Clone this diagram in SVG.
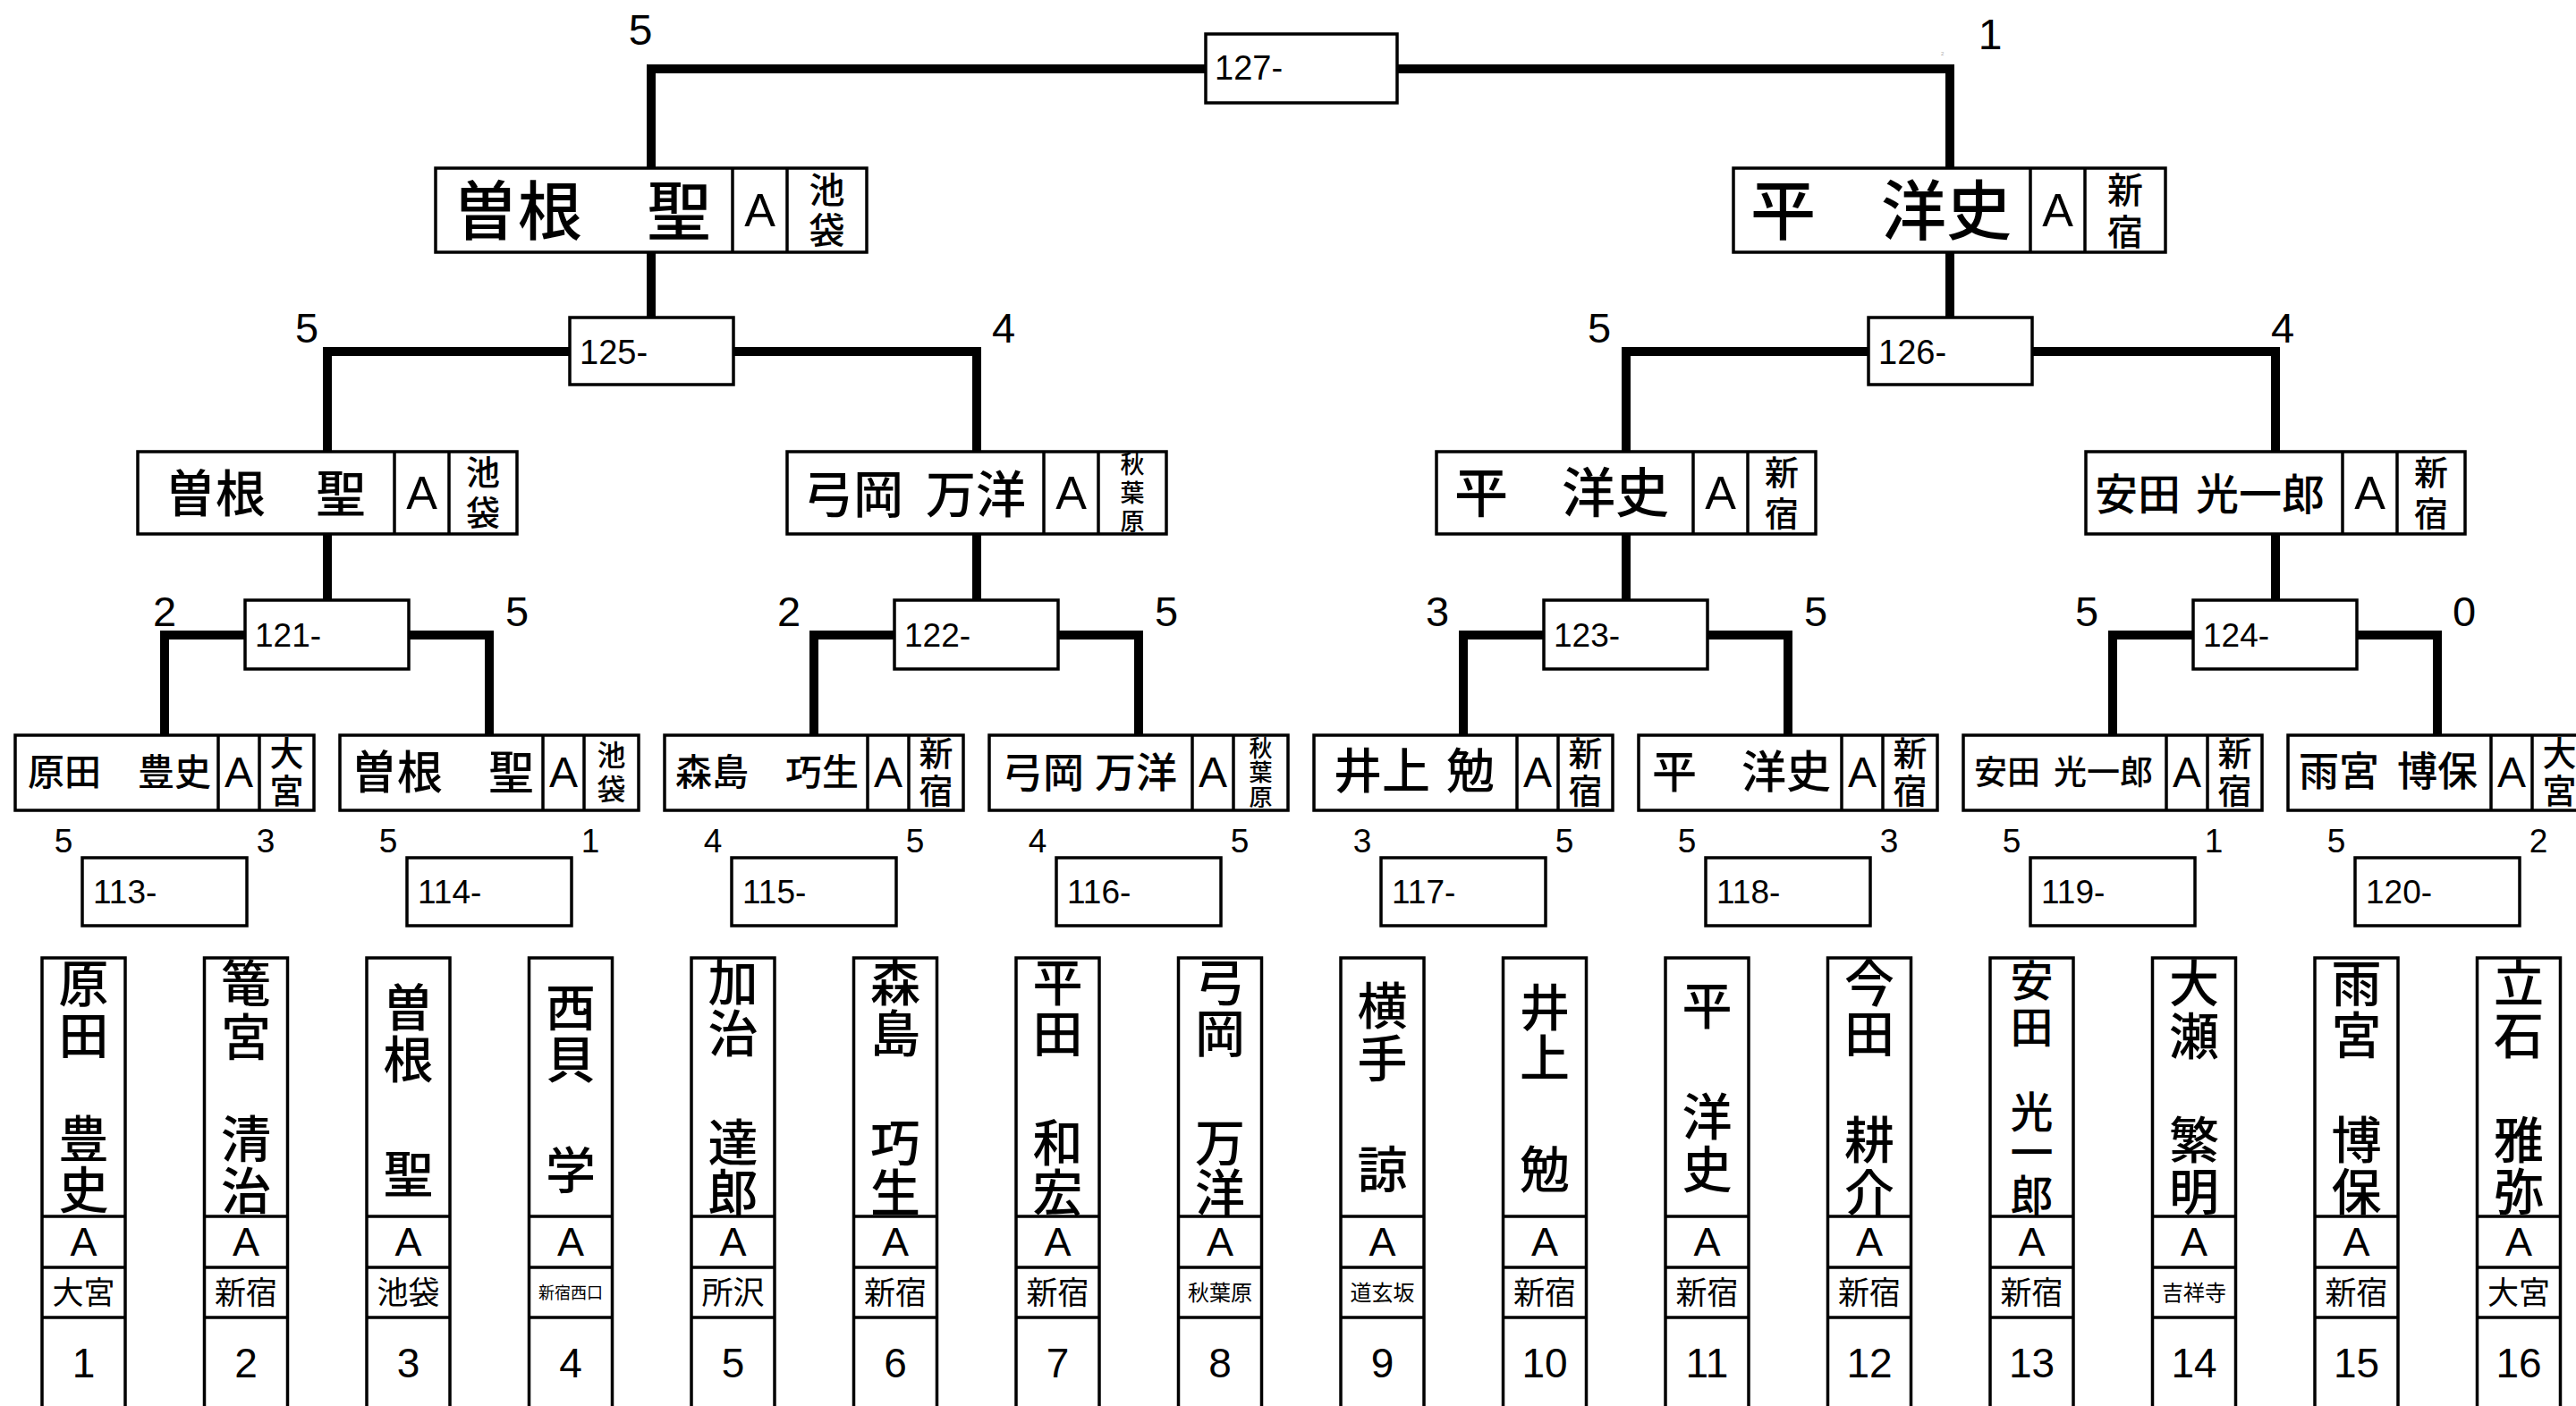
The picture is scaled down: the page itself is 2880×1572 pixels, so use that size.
<svg xmlns="http://www.w3.org/2000/svg" width="2880" height="1572" viewBox="0 0 2880 1572">
<style>
.ln{fill:none;stroke:#000;stroke-width:10;stroke-linejoin:miter;stroke-linecap:square}
.bx{fill:#fff;stroke:#000;stroke-width:3.5}
.dv{stroke:#000;stroke-width:3.5}
.jp{font-family:"Noto Sans CJK JP","Noto Sans CJK SC",sans-serif;font-weight:500;fill:#000}
.nm{font-family:"Liberation Sans",Arial,sans-serif;fill:#000}
.c{text-anchor:middle}
.sc{font-family:"Liberation Sans",Arial,sans-serif;font-size:47px;text-anchor:middle}
.sb{font-family:"Liberation Sans",Arial,sans-serif;font-size:37px;text-anchor:middle}
.mt{font-family:"Liberation Sans",Arial,sans-serif;font-size:37px}
.pa{font-family:"Liberation Sans",Arial,sans-serif;font-size:45px;text-anchor:middle}
.pn{font-family:"Liberation Sans",Arial,sans-serif;font-size:46px;text-anchor:middle}
.vn{font-family:"Noto Sans CJK JP","Noto Sans CJK SC",sans-serif;font-weight:500;font-size:56px;text-anchor:middle}
.pl{font-family:"Noto Sans CJK JP","Noto Sans CJK SC",sans-serif;font-size:35px;text-anchor:middle}
</style>
<rect width="2880" height="1572" fill="#fff"/>

<g id="connectors">
<path class="ln" d="M728 188 V77 H2180 V188"/>
<path class="ln" d="M728 282 V355"/>
<path class="ln" d="M2180 282 V355"/>
<path class="ln" d="M366 505 V393 H1092 V505"/>
<path class="ln" d="M1818 505 V393 H2544 V505"/>
<path class="ln" d="M366 597 V671"/>
<path class="ln" d="M1092 597 V671"/>
<path class="ln" d="M1818 597 V671"/>
<path class="ln" d="M2544 597 V671"/>
<path class="ln" d="M184 822 V710 H547 V822"/>
<path class="ln" d="M910 822 V710 H1273 V822"/>
<path class="ln" d="M1636 822 V710 H1999 V822"/>
<path class="ln" d="M2362 822 V710 H2725 V822"/>
</g>

<g id="scores">
<text class="sc" x="716" y="50" style="font-size:48px">5</text>
<text class="sc" x="2225" y="55" style="font-size:48px">1</text>
<text x="2170" y="62" style="font-family:'Liberation Sans',sans-serif;font-size:6px;fill:#aaa">2</text>
<text class="sc" x="343" y="383">5</text>
<text class="sc" x="1122" y="383">4</text>
<text class="sc" x="1788" y="383">5</text>
<text class="sc" x="2552" y="383">4</text>
<text class="sc" x="184" y="700">2</text>
<text class="sc" x="578" y="700">5</text>
<text class="sc" x="882" y="700">2</text>
<text class="sc" x="1304" y="700">5</text>
<text class="sc" x="1607" y="700">3</text>
<text class="sc" x="2030" y="700">5</text>
<text class="sc" x="2333" y="700">5</text>
<text class="sc" x="2755" y="700">0</text>
<text class="sb" x="71" y="953">5</text><text class="sb" x="297" y="953">3</text>
<text class="sb" x="434" y="953">5</text><text class="sb" x="660" y="953">1</text>
<text class="sb" x="797" y="953">4</text><text class="sb" x="1023" y="953">5</text>
<text class="sb" x="1160" y="953">4</text><text class="sb" x="1386" y="953">5</text>
<text class="sb" x="1523" y="953">3</text><text class="sb" x="1749" y="953">5</text>
<text class="sb" x="1886" y="953">5</text><text class="sb" x="2112" y="953">3</text>
<text class="sb" x="2249" y="953">5</text><text class="sb" x="2475" y="953">1</text>
<text class="sb" x="2612" y="953">5</text><text class="sb" x="2838" y="953">2</text>
</g>

<g id="m127"><rect class="bx" x="1348" y="38" width="214" height="77"/><text class="mt" x="1358" y="89" style="font-size:38px">127-</text></g>
<g id="m125"><rect class="bx" x="637" y="355" width="183" height="75"/><text class="mt" x="648" y="407" style="font-size:38px">125-</text></g>
<g id="m126"><rect class="bx" x="2089" y="355" width="183" height="75"/><text class="mt" x="2100" y="407" style="font-size:38px">126-</text></g>
<g id="m121"><rect class="bx" x="274" y="671" width="183" height="77"/><text class="mt" x="285" y="723">121-</text></g>
<g id="m122"><rect class="bx" x="1000" y="671" width="183" height="77"/><text class="mt" x="1011" y="723">122-</text></g>
<g id="m123"><rect class="bx" x="1726" y="671" width="183" height="77"/><text class="mt" x="1737" y="723">123-</text></g>
<g id="m124"><rect class="bx" x="2452" y="671" width="183" height="77"/><text class="mt" x="2463" y="723">124-</text></g>
<g id="m113"><rect class="bx" x="92" y="959" width="184" height="76"/><text class="mt" x="104" y="1010">113-</text></g>
<g id="m114"><rect class="bx" x="455" y="959" width="184" height="76"/><text class="mt" x="467" y="1010">114-</text></g>
<g id="m115"><rect class="bx" x="818" y="959" width="184" height="76"/><text class="mt" x="830" y="1010">115-</text></g>
<g id="m116"><rect class="bx" x="1181" y="959" width="184" height="76"/><text class="mt" x="1193" y="1010">116-</text></g>
<g id="m117"><rect class="bx" x="1544" y="959" width="184" height="76"/><text class="mt" x="1556" y="1010">117-</text></g>
<g id="m118"><rect class="bx" x="1907" y="959" width="184" height="76"/><text class="mt" x="1919" y="1010">118-</text></g>
<g id="m119"><rect class="bx" x="2270" y="959" width="184" height="76"/><text class="mt" x="2282" y="1010">119-</text></g>
<g id="m120"><rect class="bx" x="2633" y="959" width="184" height="76"/><text class="mt" x="2645" y="1010">120-</text></g>

<!-- semifinal winners -->
<g id="s1">
<rect class="bx" x="487" y="188" width="482" height="94"/>
<line class="dv" x1="819" y1="188" x2="819" y2="282"/><line class="dv" x1="880" y1="188" x2="880" y2="282"/>
<text class="jp" x="507" y="262" style="font-size:72px">曽根　聖</text>
<text class="nm c" x="849.5" y="253" style="font-size:52px">A</text>
<text class="jp c" style="font-size:40px"><tspan x="924.5" y="227">池</tspan><tspan x="924.5" y="272">袋</tspan></text>
</g>
<g id="s2">
<rect class="bx" x="1938" y="188" width="483" height="94"/>
<line class="dv" x1="2270" y1="188" x2="2270" y2="282"/><line class="dv" x1="2331" y1="188" x2="2331" y2="282"/>
<text class="jp" x="1957" y="262" style="font-size:73px">平　洋史</text>
<text class="nm c" x="2300.5" y="253" style="font-size:52px">A</text>
<text class="jp c" style="font-size:40px"><tspan x="2376" y="227">新</tspan><tspan x="2376" y="274">宿</tspan></text>
</g>

<!-- quarterfinal winners -->
<g id="q1">
<rect class="bx" x="154" y="505" width="424" height="92"/>
<line class="dv" x1="441" y1="505" x2="441" y2="597"/><line class="dv" x1="502" y1="505" x2="502" y2="597"/>
<text class="jp" x="185" y="572" style="font-size:56px">曽根　聖</text>
<text class="nm c" x="471.5" y="569" style="font-size:52px">A</text>
<text class="jp c" style="font-size:38px"><tspan x="540" y="542">池</tspan><tspan x="540" y="587">袋</tspan></text>
</g>
<g id="q2">
<rect class="bx" x="880" y="505" width="424" height="92"/>
<line class="dv" x1="1167" y1="505" x2="1167" y2="597"/><line class="dv" x1="1228" y1="505" x2="1228" y2="597"/>
<text class="jp" x="898" y="573" style="font-size:56px">弓岡 <tspan x="1035">万洋</tspan></text>
<text class="nm c" x="1197.5" y="569" style="font-size:52px">A</text>
<text class="jp c" style="font-size:27px"><tspan x="1266" y="529">秋</tspan><tspan x="1266" y="561">葉</tspan><tspan x="1266" y="593">原</tspan></text>
</g>
<g id="q3">
<rect class="bx" x="1606" y="505" width="424" height="92"/>
<line class="dv" x1="1893" y1="505" x2="1893" y2="597"/><line class="dv" x1="1954" y1="505" x2="1954" y2="597"/>
<text class="jp" x="1626" y="573" style="font-size:60px">平　洋史</text>
<text class="nm c" x="1923.5" y="569" style="font-size:52px">A</text>
<text class="jp c" style="font-size:38px"><tspan x="1992" y="542">新</tspan><tspan x="1992" y="588">宿</tspan></text>
</g>
<g id="q4">
<rect class="bx" x="2332" y="505" width="424" height="92"/>
<line class="dv" x1="2619" y1="505" x2="2619" y2="597"/><line class="dv" x1="2680" y1="505" x2="2680" y2="597"/>
<text class="jp" x="2342" y="570" style="font-size:48px">安田 <tspan x="2455">光一郎</tspan></text>
<text class="nm c" x="2649.5" y="569" style="font-size:52px">A</text>
<text class="jp c" style="font-size:38px"><tspan x="2718" y="542">新</tspan><tspan x="2718" y="588">宿</tspan></text>
</g>

<!-- round 2 winners -->
<g id="r1">
<rect class="bx" x="17" y="822" width="334" height="84"/>
<line class="dv" x1="244" y1="822" x2="244" y2="906"/><line class="dv" x1="290" y1="822" x2="290" y2="906"/>
<text class="jp" x="31" y="878" style="font-size:41px">原田　豊史</text>
<text class="nm c" x="267" y="880" style="font-size:48px">A</text>
<text class="jp c" style="font-size:38px"><tspan x="320.5" y="856">大</tspan><tspan x="320.5" y="898">宮</tspan></text>
</g>
<g id="r2">
<rect class="bx" x="380" y="822" width="334" height="84"/>
<line class="dv" x1="607" y1="822" x2="607" y2="906"/><line class="dv" x1="653" y1="822" x2="653" y2="906"/>
<text class="jp" x="393" y="882" style="font-size:51px">曽根　聖</text>
<text class="nm c" x="630" y="880" style="font-size:48px">A</text>
<text class="jp c" style="font-size:32px"><tspan x="683.5" y="856">池</tspan><tspan x="683.5" y="894">袋</tspan></text>
</g>
<g id="r3">
<rect class="bx" x="743" y="822" width="334" height="84"/>
<line class="dv" x1="970" y1="822" x2="970" y2="906"/><line class="dv" x1="1016" y1="822" x2="1016" y2="906"/>
<text class="jp" x="755" y="878" style="font-size:41px">森島　巧生</text>
<text class="nm c" x="993" y="880" style="font-size:48px">A</text>
<text class="jp c" style="font-size:38px"><tspan x="1046.5" y="856">新</tspan><tspan x="1046.5" y="898">宿</tspan></text>
</g>
<g id="r4">
<rect class="bx" x="1106" y="822" width="334" height="84"/>
<line class="dv" x1="1333" y1="822" x2="1333" y2="906"/><line class="dv" x1="1379" y1="822" x2="1379" y2="906"/>
<text class="jp" x="1120" y="880" style="font-size:46px">弓岡 <tspan x="1224">万洋</tspan></text>
<text class="nm c" x="1356" y="880" style="font-size:48px">A</text>
<text class="jp c" style="font-size:26px"><tspan x="1409.5" y="846">秋</tspan><tspan x="1409.5" y="873">葉</tspan><tspan x="1409.5" y="901">原</tspan></text>
</g>
<g id="r5">
<rect class="bx" x="1469" y="822" width="334" height="84"/>
<line class="dv" x1="1696" y1="822" x2="1696" y2="906"/><line class="dv" x1="1742" y1="822" x2="1742" y2="906"/>
<text class="jp" x="1491" y="882" style="font-size:54px">井上 <tspan x="1617">勉</tspan></text>
<text class="nm c" x="1719" y="880" style="font-size:48px">A</text>
<text class="jp c" style="font-size:38px"><tspan x="1772.5" y="856">新</tspan><tspan x="1772.5" y="898">宿</tspan></text>
</g>
<g id="r6">
<rect class="bx" x="1832" y="822" width="334" height="84"/>
<line class="dv" x1="2059" y1="822" x2="2059" y2="906"/><line class="dv" x1="2105" y1="822" x2="2105" y2="906"/>
<text class="jp" x="1847" y="881" style="font-size:50px">平　洋史</text>
<text class="nm c" x="2082" y="880" style="font-size:48px">A</text>
<text class="jp c" style="font-size:38px"><tspan x="2135.5" y="856">新</tspan><tspan x="2135.5" y="898">宿</tspan></text>
</g>
<g id="r7">
<rect class="bx" x="2195" y="822" width="334" height="84"/>
<line class="dv" x1="2422" y1="822" x2="2422" y2="906"/><line class="dv" x1="2468" y1="822" x2="2468" y2="906"/>
<text class="jp" x="2207" y="877" style="font-size:37px">安田 <tspan x="2296">光一郎</tspan></text>
<text class="nm c" x="2445" y="880" style="font-size:48px">A</text>
<text class="jp c" style="font-size:38px"><tspan x="2498.5" y="856">新</tspan><tspan x="2498.5" y="898">宿</tspan></text>
</g>
<g id="r8">
<rect class="bx" x="2558" y="822" width="334" height="84"/>
<line class="dv" x1="2785" y1="822" x2="2785" y2="906"/><line class="dv" x1="2831" y1="822" x2="2831" y2="906"/>
<text class="jp" x="2570" y="879" style="font-size:45px">雨宮 <tspan x="2680">博保</tspan></text>
<text class="nm c" x="2808" y="880" style="font-size:48px">A</text>
<text class="jp c" style="font-size:38px"><tspan x="2861.5" y="856">大</tspan><tspan x="2861.5" y="898">宮</tspan></text>
</g>

<!-- players -->
<g id="p1"><rect class="bx" x="47" y="1071" width="93" height="540"/><line class="dv" x1="47" y1="1360" x2="140" y2="1360"/><line class="dv" x1="47" y1="1417" x2="140" y2="1417"/><line class="dv" x1="47" y1="1473" x2="140" y2="1473"/>
<text class="vn"><tspan x="93.5" y="1120">原</tspan><tspan x="93.5" y="1178">田</tspan><tspan x="93.5" y="1294">豊</tspan><tspan x="93.5" y="1351">史</tspan></text>
<text class="pa" x="93.5" y="1404">A</text><text class="pl" x="93.5" y="1458">大宮</text><text class="pn" x="93.5" y="1540">1</text></g>

<g id="p2"><rect class="bx" x="228.5" y="1071" width="93" height="540"/><line class="dv" x1="228.5" y1="1360" x2="321.5" y2="1360"/><line class="dv" x1="228.5" y1="1417" x2="321.5" y2="1417"/><line class="dv" x1="228.5" y1="1473" x2="321.5" y2="1473"/>
<text class="vn"><tspan x="275" y="1120">篭</tspan><tspan x="275" y="1180">宮</tspan><tspan x="275" y="1294">清</tspan><tspan x="275" y="1352">治</tspan></text>
<text class="pa" x="275" y="1404">A</text><text class="pl" x="275" y="1458">新宿</text><text class="pn" x="275" y="1540">2</text></g>

<g id="p3"><rect class="bx" x="410" y="1071" width="93" height="540"/><line class="dv" x1="410" y1="1360" x2="503" y2="1360"/><line class="dv" x1="410" y1="1417" x2="503" y2="1417"/><line class="dv" x1="410" y1="1473" x2="503" y2="1473"/>
<text class="vn"><tspan x="456.5" y="1147">曽</tspan><tspan x="456.5" y="1205">根</tspan><tspan x="456.5" y="1333">聖</tspan></text>
<text class="pa" x="456.5" y="1404">A</text><text class="pl" x="456.5" y="1458">池袋</text><text class="pn" x="456.5" y="1540">3</text></g>

<g id="p4"><rect class="bx" x="591.5" y="1071" width="93" height="540"/><line class="dv" x1="591.5" y1="1360" x2="684.5" y2="1360"/><line class="dv" x1="591.5" y1="1417" x2="684.5" y2="1417"/><line class="dv" x1="591.5" y1="1473" x2="684.5" y2="1473"/>
<text class="vn"><tspan x="638" y="1147">西</tspan><tspan x="638" y="1205">貝</tspan><tspan x="638" y="1329">学</tspan></text>
<text class="pa" x="638" y="1404">A</text><text class="pl" x="638" y="1452" style="font-size:18px">新宿西口</text><text class="pn" x="638" y="1540">4</text></g>

<g id="p5"><rect class="bx" x="773" y="1071" width="93" height="540"/><line class="dv" x1="773" y1="1360" x2="866" y2="1360"/><line class="dv" x1="773" y1="1417" x2="866" y2="1417"/><line class="dv" x1="773" y1="1473" x2="866" y2="1473"/>
<text class="vn"><tspan x="819.5" y="1119">加</tspan><tspan x="819.5" y="1176">治</tspan><tspan x="819.5" y="1298">達</tspan><tspan x="819.5" y="1354">郎</tspan></text>
<text class="pa" x="819.5" y="1404">A</text><text class="pl" x="819.5" y="1458">所沢</text><text class="pn" x="819.5" y="1540">5</text></g>

<g id="p6"><rect class="bx" x="954.5" y="1071" width="93" height="540"/><line class="dv" x1="954.5" y1="1360" x2="1047.5" y2="1360"/><line class="dv" x1="954.5" y1="1417" x2="1047.5" y2="1417"/><line class="dv" x1="954.5" y1="1473" x2="1047.5" y2="1473"/>
<text class="vn"><tspan x="1001" y="1119">森</tspan><tspan x="1001" y="1176">島</tspan><tspan x="1001" y="1298">巧</tspan><tspan x="1001" y="1354">生</tspan></text>
<text class="pa" x="1001" y="1404">A</text><text class="pl" x="1001" y="1458">新宿</text><text class="pn" x="1001" y="1540">6</text></g>

<g id="p7"><rect class="bx" x="1136" y="1071" width="93" height="540"/><line class="dv" x1="1136" y1="1360" x2="1229" y2="1360"/><line class="dv" x1="1136" y1="1417" x2="1229" y2="1417"/><line class="dv" x1="1136" y1="1473" x2="1229" y2="1473"/>
<text class="vn"><tspan x="1182.5" y="1119">平</tspan><tspan x="1182.5" y="1176">田</tspan><tspan x="1182.5" y="1298">和</tspan><tspan x="1182.5" y="1354">宏</tspan></text>
<text class="pa" x="1182.5" y="1404">A</text><text class="pl" x="1182.5" y="1458">新宿</text><text class="pn" x="1182.5" y="1540">7</text></g>

<g id="p8"><rect class="bx" x="1317.5" y="1071" width="93" height="540"/><line class="dv" x1="1317.5" y1="1360" x2="1410.5" y2="1360"/><line class="dv" x1="1317.5" y1="1417" x2="1410.5" y2="1417"/><line class="dv" x1="1317.5" y1="1473" x2="1410.5" y2="1473"/>
<text class="vn"><tspan x="1364" y="1119">弓</tspan><tspan x="1364" y="1176">岡</tspan><tspan x="1364" y="1298">万</tspan><tspan x="1364" y="1354">洋</tspan></text>
<text class="pa" x="1364" y="1404">A</text><text class="pl" x="1364" y="1454" style="font-size:24px">秋葉原</text><text class="pn" x="1364" y="1540">8</text></g>

<g id="p9"><rect class="bx" x="1499" y="1071" width="93" height="540"/><line class="dv" x1="1499" y1="1360" x2="1592" y2="1360"/><line class="dv" x1="1499" y1="1417" x2="1592" y2="1417"/><line class="dv" x1="1499" y1="1473" x2="1592" y2="1473"/>
<text class="vn"><tspan x="1545.5" y="1145">横</tspan><tspan x="1545.5" y="1204">手</tspan><tspan x="1545.5" y="1328">諒</tspan></text>
<text class="pa" x="1545.5" y="1404">A</text><text class="pl" x="1545.5" y="1454" style="font-size:24px">道玄坂</text><text class="pn" x="1545.5" y="1540">9</text></g>

<g id="p10"><rect class="bx" x="1680.5" y="1071" width="93" height="540"/><line class="dv" x1="1680.5" y1="1360" x2="1773.5" y2="1360"/><line class="dv" x1="1680.5" y1="1417" x2="1773.5" y2="1417"/><line class="dv" x1="1680.5" y1="1473" x2="1773.5" y2="1473"/>
<text class="vn"><tspan x="1727" y="1147">井</tspan><tspan x="1727" y="1203">上</tspan><tspan x="1727" y="1328">勉</tspan></text>
<text class="pa" x="1727" y="1404">A</text><text class="pl" x="1727" y="1458">新宿</text><text class="pn" x="1727" y="1540">10</text></g>

<g id="p11"><rect class="bx" x="1862" y="1071" width="93" height="540"/><line class="dv" x1="1862" y1="1360" x2="1955" y2="1360"/><line class="dv" x1="1862" y1="1417" x2="1955" y2="1417"/><line class="dv" x1="1862" y1="1473" x2="1955" y2="1473"/>
<text class="vn"><tspan x="1908.5" y="1145">平</tspan><tspan x="1908.5" y="1269">洋</tspan><tspan x="1908.5" y="1328">史</tspan></text>
<text class="pa" x="1908.5" y="1404">A</text><text class="pl" x="1908.5" y="1458">新宿</text><text class="pn" x="1908.5" y="1540">11</text></g>

<g id="p12"><rect class="bx" x="2043.5" y="1071" width="93" height="540"/><line class="dv" x1="2043.5" y1="1360" x2="2136.5" y2="1360"/><line class="dv" x1="2043.5" y1="1417" x2="2136.5" y2="1417"/><line class="dv" x1="2043.5" y1="1473" x2="2136.5" y2="1473"/>
<text class="vn"><tspan x="2090" y="1120">今</tspan><tspan x="2090" y="1176">田</tspan><tspan x="2090" y="1295">耕</tspan><tspan x="2090" y="1354">介</tspan></text>
<text class="pa" x="2090" y="1404">A</text><text class="pl" x="2090" y="1458">新宿</text><text class="pn" x="2090" y="1540">12</text></g>

<g id="p13"><rect class="bx" x="2225" y="1071" width="93" height="540"/><line class="dv" x1="2225" y1="1360" x2="2318" y2="1360"/><line class="dv" x1="2225" y1="1417" x2="2318" y2="1417"/><line class="dv" x1="2225" y1="1473" x2="2318" y2="1473"/>
<text class="vn" style="font-size:48px"><tspan x="2271.5" y="1114">安</tspan><tspan x="2271.5" y="1166">田</tspan><tspan x="2271.5" y="1261">光</tspan><tspan x="2271.5" y="1306">一</tspan><tspan x="2271.5" y="1354">郎</tspan></text>
<text class="pa" x="2271.5" y="1404">A</text><text class="pl" x="2271.5" y="1458">新宿</text><text class="pn" x="2271.5" y="1540">13</text></g>

<g id="p14"><rect class="bx" x="2406.5" y="1071" width="93" height="540"/><line class="dv" x1="2406.5" y1="1360" x2="2499.5" y2="1360"/><line class="dv" x1="2406.5" y1="1417" x2="2499.5" y2="1417"/><line class="dv" x1="2406.5" y1="1473" x2="2499.5" y2="1473"/>
<text class="vn"><tspan x="2453" y="1120">大</tspan><tspan x="2453" y="1179">瀬</tspan><tspan x="2453" y="1295">繁</tspan><tspan x="2453" y="1353">明</tspan></text>
<text class="pa" x="2453" y="1404">A</text><text class="pl" x="2453" y="1454" style="font-size:24px">吉祥寺</text><text class="pn" x="2453" y="1540">14</text></g>

<g id="p15"><rect class="bx" x="2588" y="1071" width="93" height="540"/><line class="dv" x1="2588" y1="1360" x2="2681" y2="1360"/><line class="dv" x1="2588" y1="1417" x2="2681" y2="1417"/><line class="dv" x1="2588" y1="1473" x2="2681" y2="1473"/>
<text class="vn"><tspan x="2634.5" y="1120">雨</tspan><tspan x="2634.5" y="1178">宮</tspan><tspan x="2634.5" y="1295">博</tspan><tspan x="2634.5" y="1353">保</tspan></text>
<text class="pa" x="2634.5" y="1404">A</text><text class="pl" x="2634.5" y="1458">新宿</text><text class="pn" x="2634.5" y="1540">15</text></g>

<g id="p16"><rect class="bx" x="2769.5" y="1071" width="93" height="540"/><line class="dv" x1="2769.5" y1="1360" x2="2862.5" y2="1360"/><line class="dv" x1="2769.5" y1="1417" x2="2862.5" y2="1417"/><line class="dv" x1="2769.5" y1="1473" x2="2862.5" y2="1473"/>
<text class="vn"><tspan x="2816" y="1120">立</tspan><tspan x="2816" y="1178">石</tspan><tspan x="2816" y="1295">雅</tspan><tspan x="2816" y="1353">弥</tspan></text>
<text class="pa" x="2816" y="1404">A</text><text class="pl" x="2816" y="1458">大宮</text><text class="pn" x="2816" y="1540">16</text></g>
</svg>
